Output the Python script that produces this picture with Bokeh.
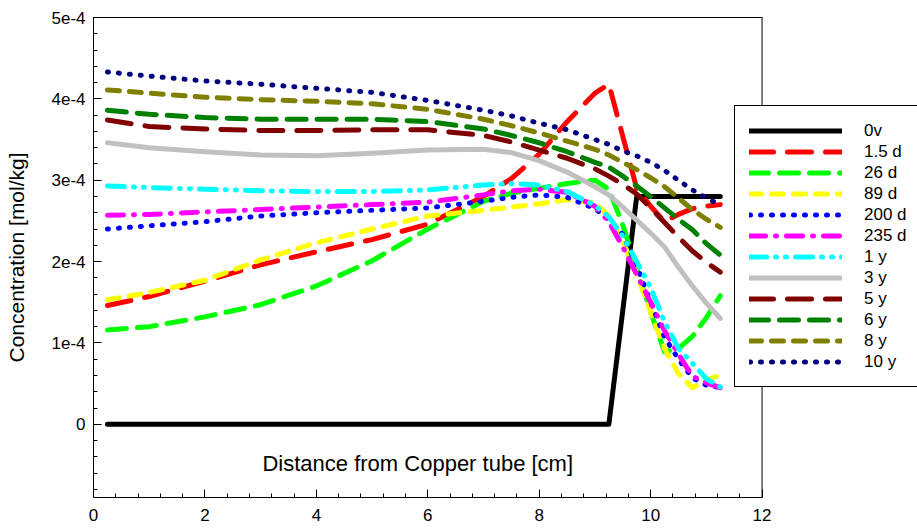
from bokeh.plotting import figure
from bokeh.models import (Legend, LegendItem, Label, SingleIntervalTicker, FixedTicker,
                          CustomJSTickFormatter, Range1d, LinearAxis, Span)
from bokeh.embed import file_html
from bokeh.resources import INLINE

FONT = "Liberation Sans"

# ---- data (concentration in mol/kg vs distance in cm) ----
distance = [0.25, 1, 2, 3, 4, 5, 6, 7, 7.5, 8, 8.5, 9, 9.25, 9.5, 9.75, 10, 10.25, 10.5, 10.75, 11, 11.25]

dist_0v = [0.25, 9.25, 9.75, 11.25]
c_0v = [0.0, 0.0, 2.8e-4, 2.8e-4]

c_1_5d = [1.46e-4, 1.57e-4, 1.76e-4, 1.96e-4, 2.12e-4, 2.27e-4, 2.46e-4, 2.80e-4, 3.02e-4, 3.32e-4, 3.72e-4,
          4.07e-4, 4.18e-4, 3.54e-4, 2.90e-4, 2.68e-4, 2.49e-4, 2.58e-4, 2.65e-4, 2.68e-4, 2.70e-4]
c_26d = [1.16e-4, 1.20e-4, 1.32e-4, 1.47e-4, 1.70e-4, 2.01e-4, 2.40e-4, 2.74e-4, 2.84e-4, 2.90e-4, 2.96e-4,
         3.00e-4, 2.89e-4, 2.45e-4, 1.92e-4, 1.38e-4, 0.89e-4, 0.93e-4, 1.08e-4, 1.31e-4, 1.58e-4]
c_89d = [1.53e-4, 1.62e-4, 1.77e-4, 2.02e-4, 2.23e-4, 2.40e-4, 2.56e-4, 2.63e-4, 2.67e-4, 2.71e-4, 2.76e-4,
         2.72e-4, 2.56e-4, 2.25e-4, 1.85e-4, 1.38e-4, 0.93e-4, 0.62e-4, 0.45e-4, 0.54e-4, 0.61e-4]
c_200d = [2.40e-4, 2.44e-4, 2.49e-4, 2.56e-4, 2.60e-4, 2.63e-4, 2.66e-4, 2.74e-4, 2.79e-4, 2.82e-4, 2.79e-4,
          2.65e-4, 2.52e-4, 2.33e-4, 1.95e-4, 1.50e-4, 1.07e-4, 0.80e-4, 0.57e-4, 0.48e-4, 0.45e-4]
c_235d = [2.57e-4, 2.58e-4, 2.61e-4, 2.64e-4, 2.67e-4, 2.70e-4, 2.73e-4, 2.82e-4, 2.87e-4, 2.89e-4, 2.85e-4,
          2.68e-4, 2.49e-4, 2.18e-4, 1.84e-4, 1.50e-4, 1.15e-4, 0.86e-4, 0.59e-4, 0.51e-4, 0.45e-4]
c_1y = [2.93e-4, 2.91e-4, 2.89e-4, 2.87e-4, 2.86e-4, 2.86e-4, 2.88e-4, 2.94e-4, 2.96e-4, 2.94e-4, 2.86e-4,
        2.69e-4, 2.55e-4, 2.31e-4, 2.00e-4, 1.68e-4, 1.26e-4, 0.93e-4, 0.75e-4, 0.56e-4, 0.46e-4]
c_3y = [3.46e-4, 3.40e-4, 3.35e-4, 3.31e-4, 3.30e-4, 3.33e-4, 3.37e-4, 3.38e-4, 3.34e-4, 3.24e-4, 3.10e-4,
        2.92e-4, 2.82e-4, 2.67e-4, 2.51e-4, 2.35e-4, 2.18e-4, 1.93e-4, 1.70e-4, 1.49e-4, 1.30e-4]
c_5y = [3.74e-4, 3.66e-4, 3.63e-4, 3.61e-4, 3.61e-4, 3.62e-4, 3.62e-4, 3.55e-4, 3.47e-4, 3.37e-4, 3.27e-4,
        3.14e-4, 3.05e-4, 2.95e-4, 2.83e-4, 2.66e-4, 2.48e-4, 2.30e-4, 2.13e-4, 1.99e-4, 1.87e-4]
c_6y = [3.86e-4, 3.81e-4, 3.77e-4, 3.75e-4, 3.75e-4, 3.75e-4, 3.72e-4, 3.63e-4, 3.55e-4, 3.46e-4, 3.35e-4,
        3.22e-4, 3.16e-4, 3.05e-4, 2.93e-4, 2.80e-4, 2.66e-4, 2.52e-4, 2.39e-4, 2.22e-4, 2.08e-4]
c_8y = [4.11e-4, 4.07e-4, 4.02e-4, 3.99e-4, 3.97e-4, 3.94e-4, 3.87e-4, 3.75e-4, 3.67e-4, 3.58e-4, 3.48e-4,
        3.38e-4, 3.31e-4, 3.22e-4, 3.13e-4, 3.03e-4, 2.92e-4, 2.78e-4, 2.64e-4, 2.52e-4, 2.42e-4]
c_10y = [4.33e-4, 4.28e-4, 4.22e-4, 4.18e-4, 4.13e-4, 4.08e-4, 3.98e-4, 3.86e-4, 3.79e-4, 3.70e-4, 3.62e-4,
         3.50e-4, 3.44e-4, 3.36e-4, 3.30e-4, 3.22e-4, 3.12e-4, 3.00e-4, 2.88e-4, 2.78e-4, 2.70e-4]

series_labels = ["0v", "1.5 d", "26 d", "89 d", "200 d", "235 d", "1 y", "3 y", "5 y", "6 y", "8 y", "10 y"]
series_x = [dist_0v] + [distance] * 11
series_y = [c_0v, c_1_5d, c_26d, c_89d, c_200d, c_235d, c_1y, c_3y, c_5y, c_6y, c_8y, c_10y]
series_colors = ["#000000", "#FF0000", "#00FF00", "#FFFF00", "#0000FF", "#FF00FF", "#00FFFF",
                 "#C0C0C0", "#800000", "#008000", "#808000", "#000080"]
series_dash = ["solid", "24 14", "19 11", "12 10", "1 10", "16 10 1 10", "17 9 1 9 1 9",
               "solid", "24 14", "19 11", "12 10", "1 10"]

x_ticks = [0, 2, 4, 6, 8, 10, 12]
y_major = [0, 1e-4, 2e-4, 3e-4, 4e-4, 5e-4]
X_MIN, X_MAX = 0, 12

# ---- figure ----
# The frame extends to the right page edge so that the legend (which overlaps the
# right border of the plot box) is not clipped; the box itself ends at x = 12.
p = figure(width=917, height=528, output_backend="svg", toolbar_location=None,
           x_range=Range1d(0, 14.79), y_range=Range1d(-0.9e-4, 5e-4),
           min_border_left=93, min_border_right=0, min_border_top=17, min_border_bottom=31)
p.background_fill_color = "white"
p.border_fill_color = "white"
p.outline_line_color = None
p.xgrid.visible = False
p.ygrid.visible = False

p.xaxis.ticker = FixedTicker(ticks=x_ticks,
                             minor_ticks=[i * 0.4 for i in range(0, 31) if i % 5 != 0])
p.xaxis.bounds = (X_MIN, X_MAX)
p.yaxis.ticker = FixedTicker(ticks=y_major,
                             minor_ticks=[i * 0.2e-4 for i in range(-4, 25) if i % 5 != 0])
p.yaxis.formatter = CustomJSTickFormatter(
    code="return Math.abs(tick) < 1e-12 ? '0' : Math.round(tick * 1e4) + 'e-4';")

for ax in (p.xaxis[0], p.yaxis[0]):
    ax.major_tick_in = 8
    ax.major_tick_out = 0
    ax.minor_tick_in = 4
    ax.minor_tick_out = 0
    ax.axis_line_color = "black"
    ax.major_tick_line_color = "black"
    ax.minor_tick_line_color = "black"
    ax.major_label_text_font = FONT
    ax.major_label_text_font_size = "17px"
    ax.major_label_text_color = "black"

p.xaxis.major_label_standoff = 11
p.yaxis.major_label_standoff = 8
p.yaxis.axis_label = "Concentration [mol/kg]"
p.yaxis.axis_label_text_font = FONT
p.yaxis.axis_label_text_font_size = "21px"
p.yaxis.axis_label_text_font_style = "normal"
p.yaxis.axis_label_text_color = "black"
p.yaxis.axis_label_standoff = 20

# top border of the plot box
top = LinearAxis(bounds=(X_MIN, X_MAX), ticker=FixedTicker(ticks=[]),
                 major_tick_in=0, major_tick_out=0, minor_tick_in=0, minor_tick_out=0,
                 major_label_text_font_size="0px", axis_line_color="black")
p.add_layout(top, "above")
# right border of the plot box
p.add_layout(Span(location=X_MAX, dimension="height", line_color="black", line_width=1))

items = []
for xs, ys, lab, col, dash in zip(series_x, series_y, series_labels, series_colors, series_dash):
    r = p.line(xs, ys, line_color=col, line_width=5, line_dash=dash,
               line_cap="round", line_join="round")
    items.append(LegendItem(label=lab, renderers=[r]))

p.add_layout(Label(x=5.82, y=-0.48e-4, text="Distance from Copper tube [cm]",
                   text_align="center", text_baseline="middle",
                   text_font=FONT, text_font_size="22px", text_color="black"))

legend = Legend(items=items, location=(641, 110),
                glyph_width=93, glyph_height=21, label_height=21, label_width=60,
                label_standoff=22, spacing=0, padding=14, margin=0,
                border_line_color="black", border_line_width=1, border_line_alpha=1,
                background_fill_color="white", background_fill_alpha=1,
                label_text_font=FONT, label_text_font_size="17px",
                label_text_color="black", label_text_baseline="middle")
p.add_layout(legend)

open("out.html", "w").write(file_html(p, INLINE))
